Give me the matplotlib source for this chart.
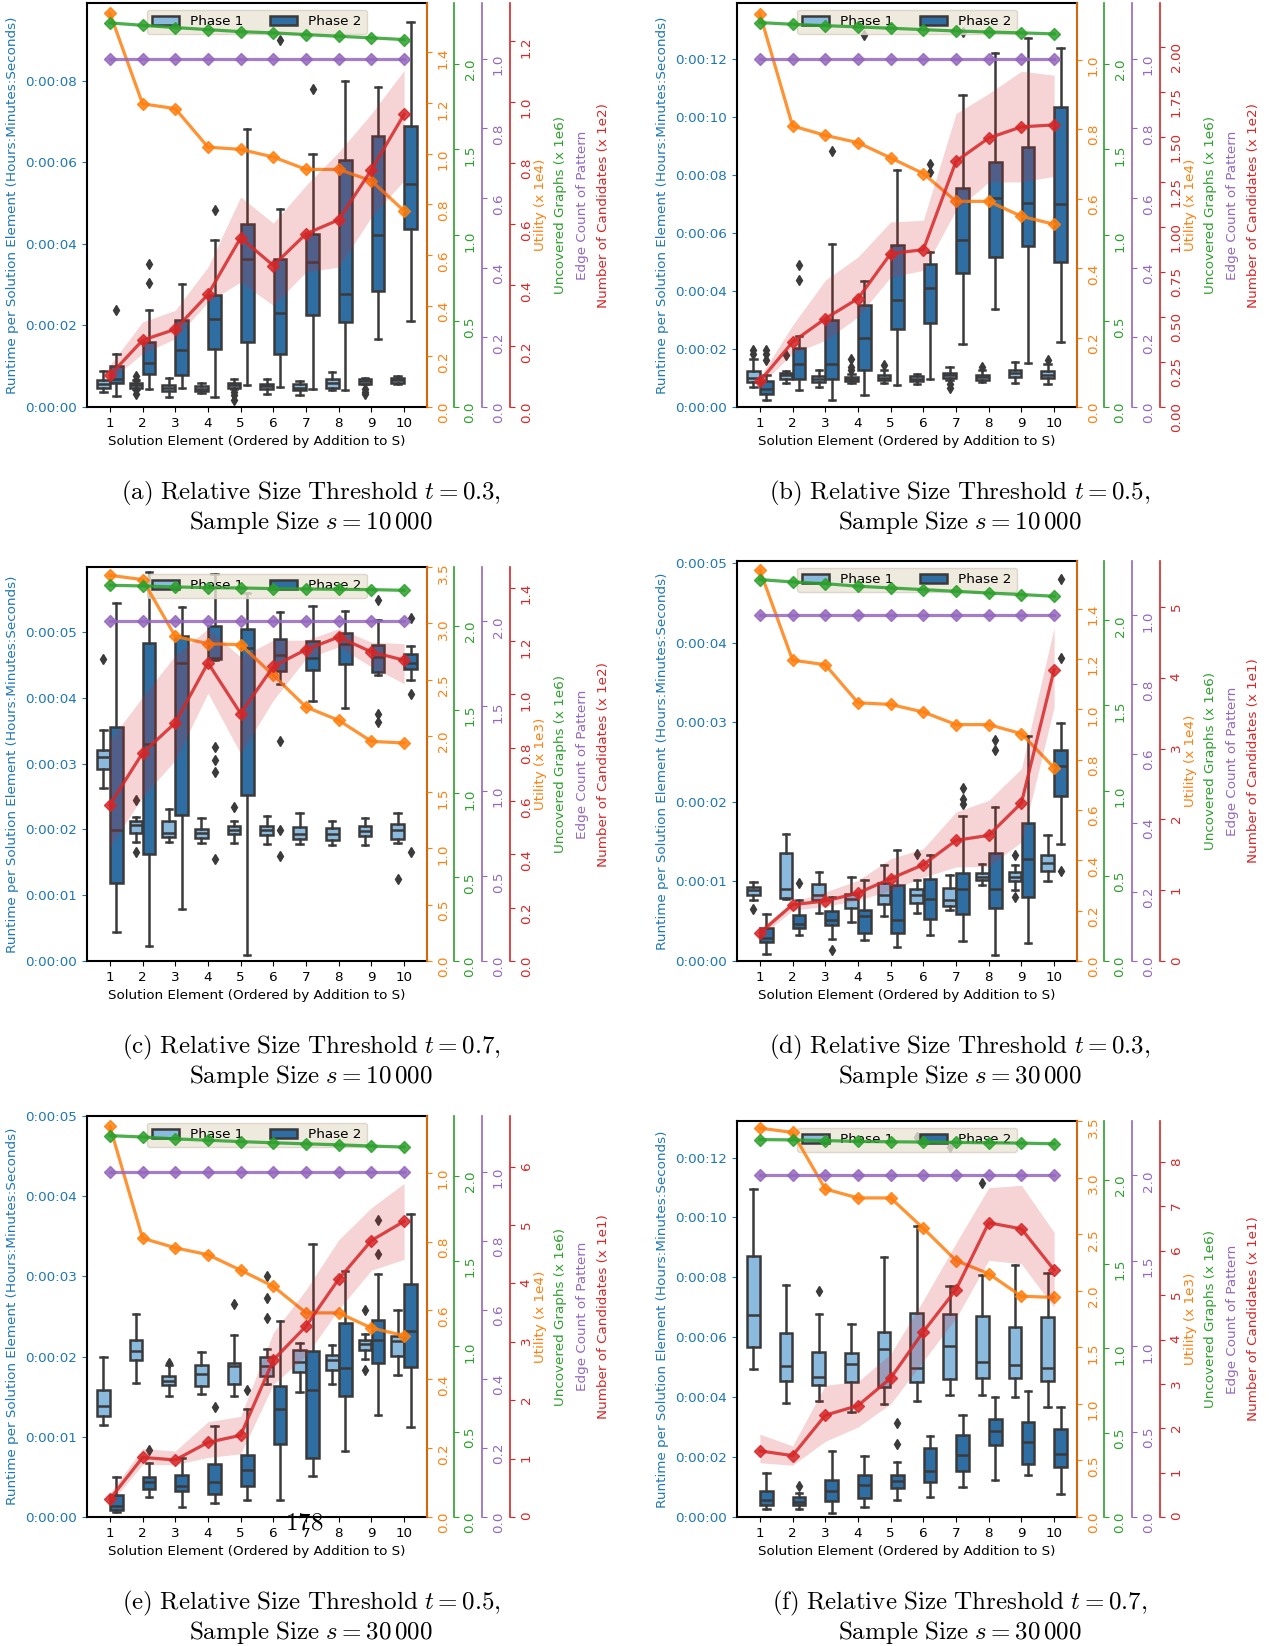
import numpy as np
import matplotlib
matplotlib.use("Agg")
import matplotlib.pyplot as plt
from matplotlib.patches import Patch
from matplotlib.ticker import MultipleLocator, FuncFormatter

plt.rcParams["font.family"] = ["DejaVu Sans"]
plt.rcParams["mathtext.fontset"] = "cm"
plt.rcParams["font.size"] = 9.7

ELEMENTS = ["1", "2", "3", "4", "5", "6", "7", "8", "9", "10"]
PHASES = ["Phase 1", "Phase 2"]
XLABEL = "Solution Element (Ordered by Addition to S)"
YLABEL = "Runtime per Solution Element (Hours:Minutes:Seconds)"

# box statistics per element: [whislo, q1, median, q3, whishi] in seconds
# ---------------- (a) t = 0.3, s = 10000 ----------------
A_P1 = [[0.367, 0.473, 0.571, 0.669, 0.882], [0.441, 0.473, 0.531, 0.588, 0.653],
        [0.245, 0.392, 0.473, 0.531, 0.710], [0.343, 0.384, 0.449, 0.506, 0.588],
        [0.449, 0.465, 0.531, 0.588, 0.678], [0.327, 0.433, 0.506, 0.571, 0.678],
        [0.302, 0.408, 0.473, 0.571, 0.637], [0.408, 0.473, 0.596, 0.694, 0.857],
        [0.555, 0.571, 0.629, 0.694, 0.710], [0.571, 0.588, 0.653, 0.718, 0.751]]
A_P1_FLIERS = [[], [0.751, 0.669, 0.408, 0.327], [], [], [0.367, 0.286, 0.180], [], [], [],
               [0.449, 0.367, 0.310], []]
A_P2 = [[0.261, 0.588, 0.694, 0.996, 1.306], [0.449, 0.816, 1.078, 1.592, 2.367],
        [0.473, 0.792, 1.388, 2.139, 3.020], [0.245, 1.429, 2.147, 2.735, 4.098],
        [0.531, 1.592, 3.633, 4.490, 6.816], [0.490, 1.306, 2.302, 3.633, 4.857],
        [0.449, 2.245, 3.551, 4.245, 6.204], [0.424, 2.082, 2.759, 6.057, 8.000],
        [1.657, 2.841, 4.204, 6.653, 7.853], [2.106, 4.367, 5.469, 6.881, 9.445]]
A_P2_FLIERS = [[2.384], [3.037, 3.510], [], [4.833], [], [8.996], [7.796], [], [], []]
A_UTIL = [1.555, 1.197, 1.178, 1.026, 1.017, 0.987, 0.938, 0.938, 0.893, 0.774]
A_UNCOV = [2.237, 2.223, 2.210, 2.198, 2.186, 2.179, 2.169, 2.159, 2.150, 2.140]
A_EDGES = [1, 1, 1, 1, 1, 1, 1, 1, 1, 1]
A_CAND = [0.104, 0.219, 0.255, 0.369, 0.555, 0.464, 0.568, 0.614, 0.778, 0.960]
A_CAND_LO = [0.087, 0.175, 0.224, 0.344, 0.410, 0.333, 0.443, 0.459, 0.623, 0.743]
A_CAND_HI = [0.137, 0.279, 0.317, 0.459, 0.689, 0.603, 0.727, 0.836, 0.962, 1.104]

# ---------------- (b) t = 0.5, s = 10000 ----------------
B_P1 = [[0.690, 0.862, 1.000, 1.241, 1.667], [0.839, 0.977, 1.092, 1.184, 1.241],
        [0.690, 0.862, 0.977, 1.069, 1.264], [0.828, 0.885, 0.954, 1.034, 1.149],
        [0.828, 0.920, 1.011, 1.092, 1.264], [0.805, 0.897, 0.977, 1.069, 1.149],
        [0.943, 1.000, 1.092, 1.184, 1.379], [0.862, 0.943, 1.034, 1.115, 1.264],
        [0.828, 1.034, 1.172, 1.287, 1.552], [0.805, 1.000, 1.115, 1.241, 1.494]]
B_P1_FLIERS = [[1.954, 1.816], [1.782], [], [1.264, 1.379, 1.667], [1.437], [], [0.805, 0.667],
               [1.379], [], [1.632]]
B_P2 = [[0.230, 0.437, 0.632, 0.897, 1.092], [0.598, 0.954, 1.494, 2.034, 2.437],
        [0.230, 0.954, 1.494, 2.989, 5.609], [0.402, 1.264, 2.379, 3.506, 4.333],
        [0.747, 2.678, 3.678, 5.598, 8.184], [0.954, 2.908, 4.115, 4.920, 5.345],
        [2.161, 4.632, 5.770, 7.563, 10.747], [3.391, 5.172, 7.218, 8.448, 12.207],
        [1.517, 5.552, 7.046, 8.966, 12.736], [2.241, 5.000, 7.011, 10.345, 12.379]]
B_P2_FLIERS = [[1.977, 1.839, 1.609], [4.368, 4.885], [8.816], [12.84], [], [8.391, 8.103],
               [12.93], [], [], []]
B_UTIL = [1.132, 0.809, 0.782, 0.761, 0.717, 0.672, 0.592, 0.592, 0.549, 0.526]
B_UNCOV = [2.239, 2.229, 2.221, 2.214, 2.206, 2.198, 2.190, 2.184, 2.179, 2.173]
B_EDGES = [1, 1, 1, 1, 1, 1, 1, 1, 1, 1]
B_CAND = [0.143, 0.361, 0.491, 0.602, 0.852, 0.874, 1.365, 1.494, 1.556, 1.567]
B_CAND_LO = [0.120, 0.296, 0.370, 0.500, 0.722, 0.759, 1.093, 1.250, 1.250, 1.281]
B_CAND_HI = [0.167, 0.454, 0.704, 0.833, 1.028, 1.037, 1.630, 1.741, 1.865, 1.843]

# ---------------- (c) t = 0.7, s = 10000 ----------------
C_P1 = [[2.634, 2.923, 3.100, 3.202, 3.516], [1.809, 1.950, 2.062, 2.123, 2.188],
        [1.809, 1.885, 1.950, 2.123, 2.315], [1.793, 1.874, 1.945, 2.011, 2.178],
        [1.793, 1.925, 1.986, 2.047, 2.128], [1.773, 1.910, 1.986, 2.052, 2.199],
        [1.773, 1.859, 1.935, 2.036, 2.249], [1.758, 1.844, 1.935, 2.021, 2.128],
        [1.758, 1.895, 1.971, 2.047, 2.173], [1.793, 1.859, 1.986, 2.077, 2.254]]
C_P1_FLIERS = [[4.585], [2.442, 1.657], [], [], [2.340], [], [], [], [], [1.241]]
C_P2 = [[0.441, 1.190, 1.996, 3.556, 5.446], [0.223, 1.631, 3.303, 4.833, 5.912],
        [0.795, 2.214, 4.529, 4.934, 5.380], [4.569, 4.595, 4.610, 5.086, 5.887],
        [0.086, 2.518, 4.762, 5.051, 5.593], [4.215, 4.407, 4.655, 4.899, 5.304],
        [3.951, 4.417, 4.610, 4.863, 5.395], [3.850, 4.519, 4.813, 4.985, 5.319],
        [4.341, 4.392, 4.620, 4.797, 5.187], [4.265, 4.443, 4.529, 4.661, 4.782]]
C_P2_FLIERS = [[], [], [], [3.252, 3.060, 2.872, 1.545], [], [3.343, 1.986, 1.591], [], [],
               [5.481, 3.749, 3.632], [5.218, 4.053, 1.657]]
C_UTIL = [3.426, 3.388, 2.884, 2.819, 2.810, 2.538, 2.256, 2.138, 1.951, 1.937]
C_UNCOV = [2.241, 2.237, 2.231, 2.227, 2.225, 2.221, 2.219, 2.217, 2.215, 2.211]
C_EDGES = [2, 2, 2, 2, 2, 2, 2, 2, 2, 2]
C_CAND = [0.586, 0.780, 0.893, 1.118, 0.928, 1.105, 1.168, 1.215, 1.159, 1.128]
C_CAND_LO = [0.428, 0.615, 0.753, 1.005, 0.778, 0.978, 1.134, 1.178, 1.103, 1.040]
C_CAND_HI = [0.828, 0.990, 1.146, 1.246, 1.140, 1.203, 1.203, 1.246, 1.196, 1.190]

# ---------------- (d) t = 0.3, s = 30000 ----------------
D_P1 = [[0.771, 0.825, 0.888, 0.930, 0.992], [0.783, 0.796, 0.909, 1.361, 1.600],
        [0.603, 0.762, 0.825, 0.963, 1.118], [0.490, 0.666, 0.783, 0.838, 1.055],
        [0.561, 0.712, 0.833, 0.984, 1.202], [0.603, 0.733, 0.825, 0.909, 1.022],
        [0.645, 0.691, 0.762, 0.917, 1.085], [0.951, 1.013, 1.055, 1.110, 1.223],
        [0.888, 1.005, 1.055, 1.118, 1.202], [1.001, 1.131, 1.235, 1.327, 1.587]]
D_P1_FLIERS = [[0.657], [], [], [], [], [1.340], [], [], [1.327, 0.804], []]
D_P2 = [[0.084, 0.239, 0.289, 0.415, 0.595], [0.322, 0.415, 0.469, 0.582, 0.762],
        [0.281, 0.448, 0.511, 0.628, 0.804], [0.260, 0.352, 0.561, 0.637, 1.013],
        [0.176, 0.352, 0.511, 0.951, 1.399], [0.331, 0.532, 0.783, 1.034, 1.327],
        [0.247, 0.595, 0.909, 1.110, 1.817], [0.071, 0.670, 0.909, 1.361, 1.935],
        [0.226, 0.804, 1.286, 1.734, 2.822], [1.466, 2.069, 2.446, 2.655, 2.990]]
D_P2_FLIERS = [[], [0.984], [0.142], [], [], [], [1.977, 2.039, 2.173], [2.781, 2.647], [],
               [4.803, 3.811, 1.126]]
D_UTIL = [1.552, 1.195, 1.177, 1.026, 1.019, 0.989, 0.939, 0.939, 0.903, 0.768]
D_UNCOV = [2.239, 2.225, 2.215, 2.200, 2.190, 2.180, 2.170, 2.160, 2.151, 2.141]
D_EDGES = [1, 1, 1, 1, 1, 1, 1, 1, 1, 1]
D_CAND = [0.395, 0.796, 0.847, 0.960, 1.163, 1.361, 1.704, 1.775, 2.232, 4.115]
D_CAND_LO = [0.339, 0.716, 0.772, 0.857, 0.998, 1.186, 1.328, 1.337, 1.681, 3.588]
D_CAND_HI = [0.457, 0.833, 0.975, 1.139, 1.445, 1.587, 2.105, 2.269, 2.717, 4.708]

# ---------------- (e) t = 0.5, s = 30000 ----------------
E_P1 = [[1.143, 1.254, 1.388, 1.588, 1.997], [1.668, 1.953, 2.064, 2.211, 2.531],
        [1.508, 1.641, 1.699, 1.757, 1.899], [1.535, 1.633, 1.779, 1.899, 2.055],
        [1.512, 1.655, 1.877, 1.922, 2.264], [1.655, 1.757, 1.877, 1.997, 2.100],
        [1.557, 1.802, 1.935, 2.077, 2.175], [1.655, 1.833, 1.953, 2.024, 2.144],
        [1.966, 2.086, 2.157, 2.202, 2.286], [1.775, 2.011, 2.189, 2.255, 2.576]]
E_P1_FLIERS = [[], [], [1.922], [], [2.656], [3.003, 2.731, 2.487], [], [], [2.576, 1.833], []]
E_P2 = [[0.062, 0.085, 0.142, 0.276, 0.498], [0.254, 0.351, 0.431, 0.498, 0.676],
        [0.129, 0.320, 0.387, 0.520, 0.730], [0.173, 0.285, 0.431, 0.667, 1.130],
        [0.209, 0.387, 0.587, 0.778, 1.352], [0.218, 0.907, 1.343, 1.633, 2.447],
        [0.512, 0.730, 1.588, 2.064, 3.403], [0.823, 1.512, 1.855, 2.424, 3.065],
        [1.277, 1.922, 2.211, 2.456, 3.034], [1.121, 1.868, 2.313, 2.909, 3.777]]
E_P2_FLIERS = [[], [0.841], [], [1.375], [1.588], [], [], [], [3.701, 3.278], []]
E_UTIL = [1.135, 0.810, 0.782, 0.762, 0.717, 0.670, 0.593, 0.593, 0.549, 0.527]
E_UNCOV = [2.234, 2.226, 2.215, 2.207, 2.199, 2.192, 2.186, 2.180, 2.173, 2.167]
E_EDGES = [1, 1, 1, 1, 1, 1, 1, 1, 1, 1]
E_CAND = [0.305, 1.020, 0.977, 1.277, 1.399, 2.688, 3.268, 4.075, 4.734, 5.064]
E_CAND_LO = [0.226, 0.898, 0.898, 1.020, 1.081, 2.272, 2.761, 3.555, 4.227, 4.411]
E_CAND_HI = [0.409, 1.173, 1.130, 1.631, 1.723, 3.158, 3.891, 4.746, 5.296, 5.712]

# ---------------- (f) t = 0.7, s = 30000 ----------------
F_P1 = [[4.946, 5.685, 6.734, 8.725, 10.965], [3.814, 4.529, 5.030, 6.138, 7.735],
        [3.874, 4.398, 4.672, 5.507, 6.782], [3.504, 4.517, 5.113, 5.483, 6.436],
        [3.778, 4.350, 5.602, 6.186, 8.689], [3.874, 4.493, 4.970, 6.818, 9.702],
        [4.076, 4.613, 5.709, 6.782, 7.712], [4.076, 4.636, 5.173, 6.698, 8.069],
        [4.017, 4.636, 5.066, 6.341, 8.403], [3.659, 4.553, 4.970, 6.663, 8.129]]
F_P1_FLIERS = [[], [], [7.557], [], [], [12.68], [12.36], [11.144], [], []]
F_P2 = [[0.262, 0.417, 0.584, 0.882, 1.454], [0.262, 0.405, 0.501, 0.679, 0.799],
        [0.143, 0.536, 0.858, 1.240, 2.205], [0.322, 0.620, 1.061, 1.418, 2.050],
        [0.584, 0.977, 1.192, 1.418, 1.836], [0.679, 1.156, 1.538, 2.312, 2.706],
        [1.001, 1.538, 2.074, 2.741, 3.397], [1.251, 2.408, 2.884, 3.278, 4.017],
        [1.395, 1.776, 2.491, 3.182, 4.195], [0.775, 1.657, 2.110, 2.944, 3.683]]
F_P2_FLIERS = [[], [1.037], [], [], [3.123, 2.431], [], [], [], [], []]
F_UTIL = [3.437, 3.399, 2.899, 2.820, 2.820, 2.551, 2.267, 2.150, 1.951, 1.941]
F_UNCOV = [2.237, 2.235, 2.231, 2.226, 2.224, 2.222, 2.220, 2.218, 2.216, 2.212]
F_EDGES = [2, 2, 2, 2, 2, 2, 2, 2, 2, 2]
F_CAND = [1.489, 1.384, 2.294, 2.511, 3.131, 4.177, 5.127, 6.632, 6.495, 5.569]
F_CAND_LO = [1.223, 1.167, 1.706, 2.028, 2.551, 3.517, 4.483, 5.787, 5.706, 4.724]
F_CAND_HI = [1.867, 1.602, 2.970, 3.050, 3.678, 4.885, 6.173, 7.421, 7.477, 6.414]

CAPTION_LETTERS = ["a", "b", "c", "d", "e", "f"]
THRESHOLDS = ["0.3", "0.5", "0.7", "0.3", "0.5", "0.7"]
SAMPLE_SIZES = ["10\\,000", "10\\,000", "10\\,000", "30\\,000", "30\\,000", "30\\,000"]
UTIL_SCALES = ["1e4", "1e4", "1e3", "1e4", "1e4", "1e3"]
CAND_SCALES = ["1e2", "1e2", "1e2", "1e1", "1e1", "1e1"]
PAGE_NUMBER = "178"

# ---------------- figure ----------------
W, H, DPI = 1269, 1646, 100
fig = plt.figure(figsize=(W / DPI, H / DPI), dpi=DPI)

C_RT, C_UT, C_UG, C_EC, C_NC = "#1f77b4", "#ff7f0e", "#2ca02c", "#9467bd", "#d62728"
BOX_EDGE = "#3a3a3a"
P1_FACE, P2_FACE = "#8bbadf", "#2f6ea3"
CAPTION_SIZE = 18


def hms(v, pos=None):
    t = int(round(v))
    return f"{t // 3600}:{t % 3600 // 60:02d}:{t % 60:02d}"


def box_stats(rows, fliers):
    return [dict(whislo=r[0], q1=r[1], med=r[2], q3=r[3], whishi=r[4], fliers=f)
            for r, f in zip(rows, fliers)]


def axes_px(left, top, width, height):
    return fig.add_axes([left / W, 1 - (top + height) / H, width / W, height / H])


PANELS = [
    dict(rect=(87, 3, 340, 404), p1=A_P1, p1f=A_P1_FLIERS, p2=A_P2, p2f=A_P2_FLIERS,
         util=A_UTIL, uncov=A_UNCOV, edges=A_EDGES, cand=A_CAND, lo=A_CAND_LO, hi=A_CAND_HI,
         rt=(9.9, 2), ut=(1.595, 0.2), ug=(2.353, 0.5), ec=(1.16, 0.2), nc=(1.325, 0.2)),
    dict(rect=(737, 3, 340, 404), p1=B_P1, p1f=B_P1_FLIERS, p2=B_P2, p2f=B_P2_FLIERS,
         util=B_UTIL, uncov=B_UNCOV, edges=B_EDGES, cand=B_CAND, lo=B_CAND_LO, hi=B_CAND_HI,
         rt=(13.93, 2), ut=(1.163, 0.2), ug=(2.353, 0.5), ec=(1.16, 0.2), nc=(2.244, 0.25)),
    dict(rect=(87, 567, 340, 394), p1=C_P1, p1f=C_P1_FLIERS, p2=C_P2, p2f=C_P2_FLIERS,
         util=C_UTIL, uncov=C_UNCOV, edges=C_EDGES, cand=C_CAND, lo=C_CAND_LO, hi=C_CAND_HI,
         rt=(5.99, 1), ut=(3.5, 0.5), ug=(2.35, 0.5), ec=(2.318, 0.5), nc=(1.4775, 0.2)),
    dict(rect=(737, 561, 340, 400), p1=D_P1, p1f=D_P1_FLIERS, p2=D_P2, p2f=D_P2_FLIERS,
         util=D_UTIL, uncov=D_UNCOV, edges=D_EDGES, cand=D_CAND, lo=D_CAND_LO, hi=D_CAND_HI,
         rt=(5.025, 1), ut=(1.589, 0.2), ug=(2.348, 0.5), ec=(1.157, 0.2), nc=(5.65, 1)),
    dict(rect=(87, 1116, 340, 401), p1=E_P1, p1f=E_P1_FLIERS, p2=E_P2, p2f=E_P2_FLIERS,
         util=E_UTIL, uncov=E_UNCOV, edges=E_EDGES, cand=E_CAND, lo=E_CAND_LO, hi=E_CAND_HI,
         rt=(5.0, 1), ut=(1.165, 0.2), ug=(2.349, 0.5), ec=(1.162, 0.2), nc=(6.866, 1)),
    dict(rect=(737, 1121, 340, 396), p1=F_P1, p1f=F_P1_FLIERS, p2=F_P2, p2f=F_P2_FLIERS,
         util=F_UTIL, uncov=F_UNCOV, edges=F_EDGES, cand=F_CAND, lo=F_CAND_LO, hi=F_CAND_HI,
         rt=(13.22, 2), ut=(3.5, 0.5), ug=(2.347, 0.5), ec=(2.318, 0.5), nc=(8.926, 1)),
]


def draw_panel(i, spec):
    ax = axes_px(*spec["rect"])
    x = np.arange(len(ELEMENTS))
    line_kw = dict(color=BOX_EDGE, linewidth=1.8)
    for rows, fl, face, dx in ((spec["p1"], spec["p1f"], P1_FACE, -0.2),
                               (spec["p2"], spec["p2f"], P2_FACE, 0.2)):
        ax.bxp(box_stats(rows, fl), positions=x + dx, widths=0.39, patch_artist=True,
               manage_ticks=False,
               boxprops=dict(facecolor=face, edgecolor=BOX_EDGE, linewidth=1.8),
               medianprops=line_kw, whiskerprops=line_kw, capprops=line_kw,
               flierprops=dict(marker="d", markerfacecolor=BOX_EDGE, markeredgecolor=BOX_EDGE,
                               markersize=5.5, linestyle="none"))
    ax.set_xlim(-0.7, 9.7)
    ax.set_xticks(x)
    ax.set_xticklabels(ELEMENTS)
    ax.set_xlabel(XLABEL)
    ax.set_ylim(0, spec["rt"][0])
    ax.yaxis.set_major_locator(MultipleLocator(spec["rt"][1]))
    ax.yaxis.set_major_formatter(FuncFormatter(hms))
    ax.tick_params(axis="y", colors=C_RT)
    ax.set_ylabel(YLABEL, color=C_RT)
    ax.yaxis.set_label_coords(-0.22, 0.5)
    ax.yaxis.label.set_verticalalignment("center")
    for s in ax.spines.values():
        s.set_linewidth(1.5)
    handles = [Patch(facecolor=P1_FACE, edgecolor=BOX_EDGE, linewidth=1.8),
               Patch(facecolor=P2_FACE, edgecolor=BOX_EDGE, linewidth=1.8)]
    ax.legend(handles, PHASES, loc="upper center", ncol=2, facecolor="#ece5d6",
              edgecolor="#d6d0c2", framealpha=0.8)

    twins = [
        (spec["util"], C_UT, f"Utility (x {UTIL_SCALES[i]})", spec["ut"], 1.0, 1.335),
        (spec["uncov"], C_UG, "Uncovered Graphs (x 1e6)", spec["ug"], 1.079, 1.394),
        (spec["edges"], C_EC, "Edge Count of Pattern", spec["ec"], 1.162, 1.456),
        (spec["cand"], C_NC, f"Number of Candidates (x {CAND_SCALES[i]})", spec["nc"], 1.244, 1.52),
    ]
    for vals, color, label, (top, step), offset, labx in twins:
        tw = ax.twinx()
        for s in ("top", "left", "bottom"):
            tw.spines[s].set_visible(False)
        tw.spines["right"].set_position(("axes", offset))
        tw.spines["right"].set_color(color)
        tw.spines["right"].set_linewidth(1.2)
        tw.set_ylim(0, top)
        tw.yaxis.set_major_locator(MultipleLocator(step))
        tw.tick_params(axis="y", colors=color, labelrotation=90)
        if color == C_NC:
            tw.fill_between(x, spec["lo"], spec["hi"], color=color, alpha=0.2, linewidth=0)
        tw.plot(x, vals, color=color, marker="D", markersize=6.3, linewidth=2.3, alpha=0.85)
        tw.set_ylabel(label, color=color)
        tw.yaxis.set_label_coords(labx, 0.5)
        tw.yaxis.label.set_verticalalignment("center")

    # caption below the panel
    left, top, width, height = spec["rect"]
    cx = (311 if left < 500 else 960) / W
    y0 = top + height + 86
    fig.text(cx, 1 - y0 / H,
             rf"$\mathrm{{({CAPTION_LETTERS[i]})\ Relative\ Size\ Threshold}}\ t = {THRESHOLDS[i]},$",
             ha="center", va="center", fontsize=CAPTION_SIZE)
    fig.text(cx, 1 - (y0 + 29) / H,
             rf"$\mathrm{{Sample\ Size}}\ s = {SAMPLE_SIZES[i]}$",
             ha="center", va="center", fontsize=CAPTION_SIZE)


for i, spec in enumerate(PANELS):
    draw_panel(i, spec)

fig.text(304 / W, 1 - 1522 / H, rf"$\mathrm{{{PAGE_NUMBER}}}$", ha="center", va="center",
         fontsize=CAPTION_SIZE)

fig.savefig("out.png", dpi=DPI)
